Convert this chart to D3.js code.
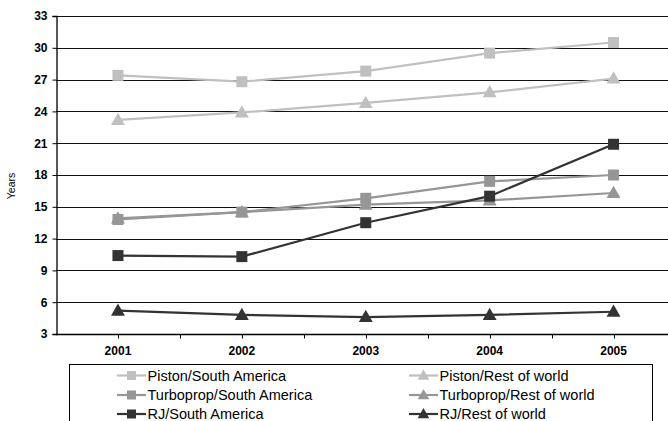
<!DOCTYPE html>
<html>
<head>
<meta charset="utf-8">
<script src="https://cdn.jsdelivr.net/npm/d3@7/dist/d3.min.js"></script>
<style>
html,body{margin:0;padding:0;background:#fff;overflow:hidden;}
svg{display:block;font-family:Arial,"Liberation Sans",sans-serif;}
</style>
</head>
<body>
<svg id="chart" width="668" height="421"></svg>
<script>
const years = ["2001","2002","2003","2004","2005"];
const yTicks = [3,6,9,12,15,18,21,24,27,30,33];
const seriesNames = ["Piston/South America","Piston/Rest of world","Turboprop/South America","Turboprop/Rest of world","RJ/South America","RJ/Rest of world"];
const pistonSA   = [27.4, 26.8, 27.8, 29.5, 30.5];
const pistonRoW  = [23.2, 23.9, 24.8, 25.8, 27.1];
const turboSA    = [13.8, 14.5, 15.8, 17.4, 18.0];
const turboRoW   = [13.9, 14.5, 15.2, 15.6, 16.3];
const rjSA       = [10.4, 10.3, 13.5, 16.0, 20.9];
const rjRoW      = [5.2, 4.8, 4.6, 4.8, 5.1];

const seriesValues = [pistonSA, pistonRoW, turboSA, turboRoW, rjSA, rjRoW];
const colors = ["#c0c0c0","#c0c0c0","#969696","#969696","#333333","#333333"];
const shapes = ["square","triangle","square","triangle","square","triangle"];

(function(){
const svg = d3.select("#chart");
const FONT = "Arial, 'Liberation Sans', sans-serif";
const mLeft = 56, mRight = 675.5, mTop = 16, mBottom = 334;

const x = d3.scaleBand().domain(years).range([mLeft, mRight]).padding(0);
const y = d3.scaleLinear().domain([3,33]).range([mBottom, mTop]);
const cx = d => x(d) + x.bandwidth()/2;

// gridlines
svg.append("g").selectAll("line").data(yTicks.filter(t => t > 3)).join("line")
  .attr("x1", mLeft).attr("x2", 668)
  .attr("y1", d => Math.round(y(d)) + 0.5).attr("y2", d => Math.round(y(d)) + 0.5)
  .attr("stroke", "#111").attr("stroke-width", 1);

// y axis
const yAxis = d3.axisLeft(y).tickValues(yTicks).tickSize(4).tickPadding(5);
const yg = svg.append("g").attr("transform", `translate(${mLeft + 0.5},0)`).call(yAxis);
yg.select(".domain").attr("stroke", "#000").attr("stroke-width", 1.3);
yg.selectAll(".tick line").attr("stroke", "#000");
yg.selectAll(".tick text").attr("font-size", 12).attr("font-weight", "bold").attr("fill", "#000")
  .attr("font-family", FONT);

// x axis
const xAxis = d3.axisBottom(x).tickSize(0).tickPadding(12);
const xg = svg.append("g").attr("transform", `translate(0,${Math.round(mBottom) + 0.5})`).call(xAxis);
xg.select(".domain").remove();
xg.append("line").attr("x1", mLeft).attr("x2", 668).attr("y1", 0).attr("y2", 0).attr("stroke", "#000").attr("stroke-width", 1.3);
xg.selectAll(".tick text").attr("font-size", 12).attr("font-weight", "bold").attr("fill", "#000")
  .attr("font-family", FONT);
const halfTicks = [];
years.forEach(yr => { halfTicks.push(x(yr)); halfTicks.push(cx(yr)); });
halfTicks.push(x(years[years.length-1]) + x.bandwidth());
xg.append("g").selectAll("line").data(halfTicks.filter(v => v > mLeft + 1 && v < 668)).join("line")
  .attr("x1", d => Math.round(d) + 0.5).attr("x2", d => Math.round(d) + 0.5)
  .attr("y1", 0).attr("y2", 4).attr("stroke", "#000");

// y label
svg.append("text").attr("transform", "translate(14.5,186) rotate(-90)")
  .attr("text-anchor", "middle").attr("font-size", 10.5).attr("fill", "#000")
  .attr("font-family", FONT).text("Years");

// series
const line = d3.line().x((d,i) => cx(years[i])).y(d => y(d));
const triPath = (s) => `M0,${-s*0.6}L${s*0.58},${s*0.42}L${-s*0.58},${s*0.42}Z`;

function drawMarker(g, shape, color, size) {
  if (shape === "square") {
    g.append("rect").attr("x", -size/2).attr("y", -size/2).attr("width", size).attr("height", size).attr("fill", color);
  } else {
    g.append("path").attr("d", triPath(size + 1)).attr("fill", color);
  }
}

seriesValues.forEach((vals, si) => {
  const g = svg.append("g");
  g.append("path").datum(vals).attr("d", line).attr("fill", "none")
    .attr("stroke", colors[si]).attr("stroke-width", 2.2);
  vals.forEach((v, i) => {
    const m = g.append("g").attr("transform", `translate(${cx(years[i])},${y(v)})`);
    drawMarker(m, shapes[si], colors[si], 11);
  });
});

// legend
const lg = svg.append("g");
lg.append("rect").attr("x", 69.5).attr("y", 364.5).attr("width", 583).attr("height", 80)
  .attr("fill", "#fff").attr("stroke", "#000").attr("stroke-width", 1);
const colX = [117, 409];
const rowY = [375.5, 395, 414];
seriesNames.forEach((name, i) => {
  const col = i % 2, row = Math.floor(i / 2);
  const gx = colX[col], gy = rowY[row];
  const item = lg.append("g").attr("transform", `translate(${gx},${gy})`);
  item.append("line").attr("x1", 0).attr("x2", 29).attr("y1", 0).attr("y2", 0)
    .attr("stroke", colors[i]).attr("stroke-width", 2.2);
  const m = item.append("g").attr("transform", "translate(14.5,0)");
  drawMarker(m, shapes[i], colors[i], 9);
  item.append("text").attr("x", 30.5).attr("y", 0).attr("dy", "0.36em")
    .attr("font-size", 14.5).attr("fill", "#000").attr("font-family", FONT).text(name);
});
})();
</script>
</body>
</html>
